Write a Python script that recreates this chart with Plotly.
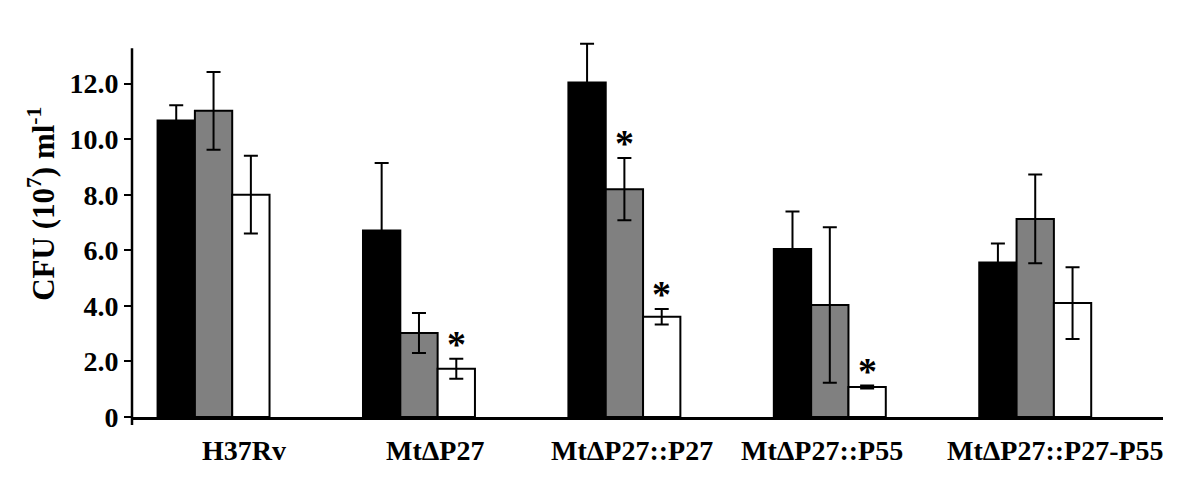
import plotly.graph_objects as go

# ---- data ----
strains = ["H37Rv", "MtΔP27", "MtΔP27::P27", "MtΔP27::P55", "MtΔP27::P27-P55"]
black_vals = [10.67, 6.71, 12.04, 6.05, 5.56]
black_err = [0.55, 2.43, 1.39, 1.35, 0.68]
gray_vals = [11.02, 3.02, 8.20, 4.03, 7.13]
gray_err = [1.40, 0.72, 1.12, 2.80, 1.60]
white_vals = [8.00, 1.74, 3.61, 1.08, 4.10]
white_err = [1.40, 0.36, 0.28, 0.05, 1.29]
# (strain index, series index) of bars marked with an asterisk
starred = [(1, 2), (2, 1), (2, 2), (3, 2)]
y_ticks = [0, 2, 4, 6, 8, 10, 12]
y_tick_text = ["0", "2.0", "4.0", "6.0", "8.0", "10.0", "12.0"]

# ---- style ----
FONT = "Liberation Serif, Times New Roman, serif"
fills = ["#000000", "#808080", "#ffffff"]
label_shift = [30, 16, 8, -8, 20]
BARGAP = 0.455
Y_AXIS_TOP = 13.27

series = [(black_vals, black_err), (gray_vals, gray_err), (white_vals, white_err)]
xs = list(range(len(strains)))

fig = go.Figure()
for (vals, errs), fill in zip(series, fills):
    fig.add_trace(go.Bar(
        x=xs, y=vals,
        marker=dict(color=fill, line=dict(color="black", width=2)),
        error_y=dict(type="data", array=errs, visible=True,
                     color="black", thickness=2, width=7),
        showlegend=False,
    ))

annotations = []
# category labels under axis
for i, name in enumerate(strains):
    annotations.append(dict(
        x=i, y=0, xref="x", yref="paper", yanchor="middle",
        yshift=-33, xshift=label_shift[i], text=name, showarrow=False,
        font=dict(family=FONT, size=28, color="black", weight="bold"),
    ))
# asterisks
bar_w = (1 - BARGAP) / 3
for gi, si in starred:
    vals, errs = series[si]
    annotations.append(dict(
        x=gi + (si - 1) * bar_w, y=vals[gi] + errs[gi], xref="x", yref="y",
        yanchor="bottom", yshift=-8, text="*", showarrow=False,
        font=dict(family=FONT, size=38, color="black", weight="bold"),
    ))
# y-axis title
annotations.append(dict(
    x=-0.0873, y=0.548, xref="paper", yref="paper", textangle=-90,
    text="CFU (10<sup>7</sup>) ml<sup>-1</sup>", showarrow=False,
    xanchor="center", yanchor="middle",
    font=dict(family=FONT, size=31, color="black", weight="bold"),
))

shapes = [
    dict(type="line", xref="paper", yref="y", x0=0, x1=0, y0=0, y1=Y_AXIS_TOP,
         line=dict(color="black", width=2.5)),
    dict(type="line", xref="paper", yref="paper", x0=0, x1=0, y0=0, y1=-0.0205,
         line=dict(color="black", width=2.5)),
]

fig.update_layout(
    width=1184, height=463,
    margin=dict(l=124, r=29, t=20, b=53.5),
    paper_bgcolor="white", plot_bgcolor="white",
    barmode="group", bargap=BARGAP, bargroupgap=0,
    annotations=annotations,
    shapes=shapes,
    xaxis=dict(range=[-0.397, 4.622], showticklabels=False, ticks="",
               showline=True, linecolor="black", linewidth=3,
               showgrid=False, zeroline=False),
    yaxis=dict(range=[0, 14], tickvals=y_ticks, ticktext=y_tick_text,
               ticks="outside", ticklen=7, tickwidth=2, tickcolor="black",
               showline=False, showgrid=False, zeroline=False,
               tickfont=dict(family=FONT, size=28, color="black", weight="bold")),
)

fig.write_html("out.html")
